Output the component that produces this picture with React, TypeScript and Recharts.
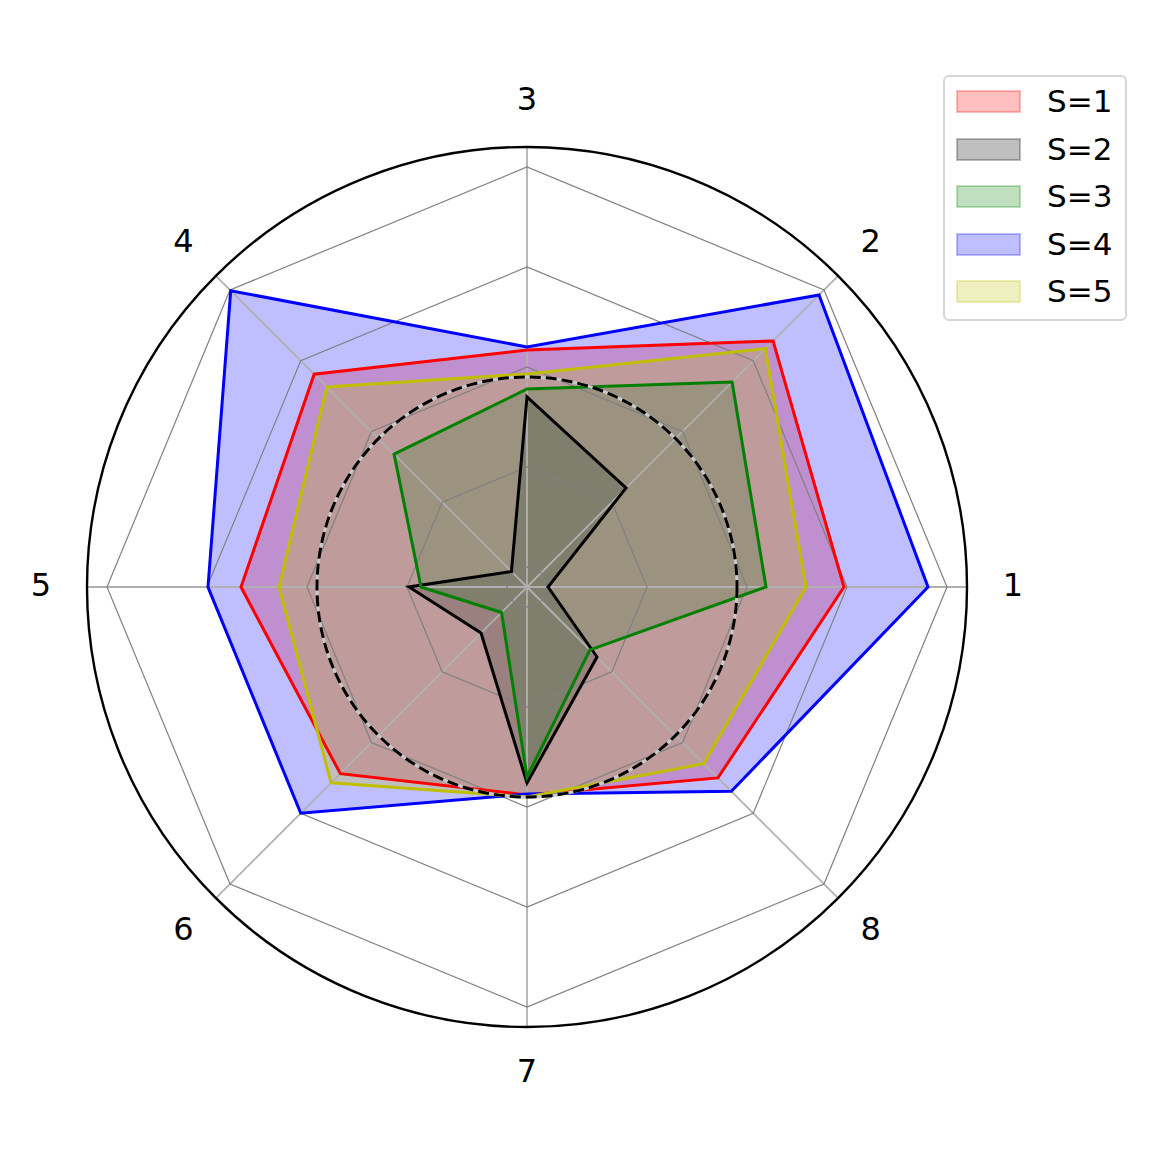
import {
  Legend,
  PolarAngleAxis,
  PolarGrid,
  PolarRadiusAxis,
  Radar,
  RadarChart,
} from "recharts";

// axis names, counter-clockwise from the right
const AXES = ["1", "2", "3", "4", "5", "6", "7", "8"];

const S1 = [2.97, 3.28, 2.17, 2.81, 2.66, 2.44, 1.88, 2.5];
const S2 = [0.01, 1.2, 1.7, 0.02, 0.98, 0.45, 1.76, 0.79];
const S3 = [2.19, 2.7, 1.78, 1.68, 0.86, 0.16, 1.7, 0.69];
const S4 = [3.81, 3.93, 2.2, 3.99, 2.99, 3.0, 1.87, 2.69];
const S5 = [2.59, 3.17, 1.93, 2.63, 2.28, 2.57, 1.9, 2.3];

const SERIES_NAMES = ["S=1", "S=2", "S=3", "S=4", "S=5"];
const SERIES_VALUES = [S1, S2, S3, S4, S5];
const SERIES_COLORS = ["#ff0000", "#000000", "#008000", "#0000ff", "#bfbf00"];

const R_DOMAIN: [number, number] = [-0.2, 4.2];
const R_TICKS = [0, 1, 2, 3, 4];
const REF_LEVEL = 1.9;

const W = 1150;
const H = 1150;
const CX = 519;
const CY = 579;
const OUTER = 440;
const LABEL_GAP = 46;
const FONT = "'DejaVu Sans', sans-serif";

const series = SERIES_NAMES.map((name, i) => ({
  key: `s${i + 1}`,
  name,
  color: SERIES_COLORS[i],
  values: SERIES_VALUES[i],
}));

// recharts walks the circle clockwise from the start angle (the right side),
// so feed the axes as 1, 8, 7, ... 2 to get them counter-clockwise
const order = AXES.map((_, i) => (AXES.length - i) % AXES.length);

const data = order.map((i) => {
  const row: Record<string, string | number> = { axis: AXES[i] };
  series.forEach((s) => {
    row[s.key] = s.values[i];
  });
  return row;
});

// pixel radius of a value on the radial axis
const radiusOf = (v: number) =>
  (OUTER * (v - R_DOMAIN[0])) / (R_DOMAIN[1] - R_DOMAIN[0]);

function AngleTick(props: any) {
  const { x, y, payload } = props;
  return (
    <text
      x={x}
      y={y}
      dy={-2}
      textAnchor="middle"
      dominantBaseline="central"
      fontSize={32}
      fontFamily={FONT}
      fill="#000"
    >
      {payload.value}
    </text>
  );
}

function LegendBox() {
  return (
    <div
      style={{
        boxSizing: "border-box",
        width: 184,
        height: 246,
        border: "2px solid #d6d6d6",
        borderRadius: 6,
        background: "#fff",
        padding: "1px 0 0 11px",
        fontFamily: FONT,
      }}
    >
      {series.map((s) => (
        <div
          key={s.key}
          style={{ display: "flex", alignItems: "center", height: 47.5 }}
        >
          <svg width={65} height={23} style={{ display: "block" }}>
            <rect
              x={1}
              y={1}
              width={63}
              height={21}
              fill={s.color}
              fillOpacity={0.25}
              stroke={s.color}
              strokeOpacity={0.25}
              strokeWidth={2}
            />
          </svg>
          <span
            style={{
              marginLeft: 26,
              fontSize: 31,
              lineHeight: 1,
              color: "#000",
            }}
          >
            {s.name}
          </span>
        </div>
      ))}
    </div>
  );
}

export default function App() {
  return (
    <div style={{ width: W, height: H, background: "#fff" }}>
      <RadarChart
        width={W}
        height={H}
        data={data}
        cx={CX}
        cy={CY}
        innerRadius={0}
        outerRadius={OUTER}
        startAngle={0}
        endAngle={-360}
        margin={{ top: 0, right: 0, bottom: 0, left: 0 }}
      >
        {/* fills first, grid over them, lines on top */}
        {series.map((s) => (
          <Radar
            key={`fill-${s.key}`}
            dataKey={s.key}
            stroke="none"
            fill={s.color}
            fillOpacity={0.25}
            dot={false}
            legendType="none"
            isAnimationActive={false}
            zIndex={100}
          />
        ))}
        <PolarGrid
          gridType="polygon"
          polarRadius={[0]}
          stroke="#b0b0b0"
          strokeWidth={1.8}
          zIndex={150}
        />
        <PolarGrid
          gridType="polygon"
          radialLines={false}
          stroke="#808080"
          strokeWidth={1.2}
          zIndex={150}
        />
        {series.map((s) => (
          <Radar
            key={`line-${s.key}`}
            name={s.name}
            dataKey={s.key}
            stroke={s.color}
            strokeWidth={3}
            fill="none"
            dot={false}
            legendType="none"
            isAnimationActive={false}
            zIndex={400}
          />
        ))}
        <PolarGrid
          gridType="circle"
          radialLines={false}
          polarRadius={[radiusOf(REF_LEVEL)]}
          stroke="#c8c8c8"
          strokeWidth={3}
          zIndex={450}
        />
        <PolarGrid
          gridType="circle"
          radialLines={false}
          polarRadius={[radiusOf(REF_LEVEL)]}
          stroke="#000"
          strokeWidth={3}
          strokeDasharray="11 5"
          zIndex={460}
        />
        <PolarRadiusAxis
          type="number"
          domain={R_DOMAIN}
          ticks={R_TICKS}
          allowDataOverflow
          tick={false}
          axisLine={false}
        />
        <PolarAngleAxis
          dataKey="axis"
          axisLineType="circle"
          axisLine={{ stroke: "#000", strokeWidth: 2.4 }}
          tickLine={false}
          tickSize={LABEL_GAP}
          tick={AngleTick}
        />
        <Legend
          layout="vertical"
          align="center"
          verticalAlign="middle"
          wrapperStyle={{ left: 935, top: 67, width: 184 }}
          content={() => <LegendBox />}
        />
      </RadarChart>
    </div>
  );
}
